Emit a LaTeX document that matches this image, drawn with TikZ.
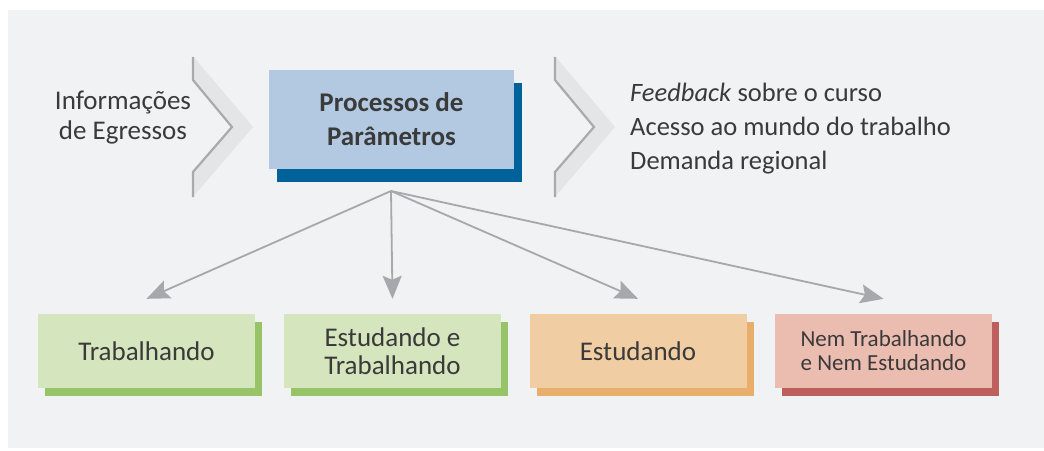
\documentclass[tikz,border=0pt]{standalone}
\usepackage{fontspec}
\setmainfont{Carlito}
\usetikzlibrary{arrows.meta,shadows}
\definecolor{bgc}{HTML}{F1F2F4}
\definecolor{chevf}{HTML}{E4E5E7}
\definecolor{chevs}{HTML}{A9AAAC}
\definecolor{bluef}{HTML}{B3C9E2}
\definecolor{blues}{HTML}{00629B}
\definecolor{greenf}{HTML}{D5E5BE}
\definecolor{greens}{HTML}{98C468}
\definecolor{orangef}{HTML}{F1CDA3}
\definecolor{oranges}{HTML}{E8AE6C}
\definecolor{pinkf}{HTML}{EBBCB0}
\definecolor{pinks}{HTML}{BD5F5D}
\definecolor{arrowc}{HTML}{A7A8AB}
\definecolor{txt}{HTML}{3A3A3A}
\tikzset{
  txtnode/.style={text=txt, align=center, inner sep=0pt},
  mainbox/.style={fill=bluef, minimum width=245pt, minimum height=99pt, inner sep=0pt,
    align=center, text=txt,
    general shadow={shadow xshift=8pt, shadow yshift=-12.5pt, fill=blues}},
  catbox/.style 2 args={fill=#1, minimum width=217pt, minimum height=74pt, inner sep=0pt,
    align=center, text=txt,
    general shadow={shadow xshift=7pt, shadow yshift=-8pt, fill=#2}},
  conn/.style={draw=arrowc, line width=1.8pt,
    -{Stealth[length=23pt, width=19pt, inset=4pt, fill=arrowc]}},
  chevfill/.style={fill=chevf},
  chevedge/.style={draw=chevs, line width=2.2pt, line join=miter},
}
\begin{document}
\begin{tikzpicture}[x=1pt, y=-1pt]
\useasboundingbox (0,0) rectangle (1044,450);
\fill[bgc] (8,10) rectangle (1044,448);
% chevrons
\foreach \dx in {0,362}{
  \fill[chevfill] (192+\dx,55) -- (253+\dx,127) -- (192+\dx,198) -- (192+\dx,172)
     -- (232+\dx,127) -- (192+\dx,80) -- cycle;
  \draw[chevedge] (193+\dx,57) -- (193+\dx,80) -- (232+\dx,127) -- (193+\dx,172) -- (193+\dx,197);
}
% texts
\node[txtnode, font=\fontsize{27}{30}\selectfont] (inf) at (123,118) {Informações\\de Egressos};
\node[txtnode, anchor=west, align=left, font=\fontsize{26.5}{34}\selectfont] (out) at (630,129)
  {\textit{Feedback} sobre o curso\\Acesso ao mundo do trabalho\\Demanda regional};
% main box
\node[mainbox, font=\bfseries\fontsize{27}{34}\selectfont] (main) at (391.5,119.5) {Processos de\\Parâmetros};
\coordinate (apex) at (391,191);
% category boxes
\node[catbox={greenf}{greens}, font=\fontsize{27}{28}\selectfont] (b1) at (146.5,351) {Trabalhando};
\node[catbox={greenf}{greens}, font=\fontsize{27}{28}\selectfont] (b2) at (392.5,351) {Estudando e\\Trabalhando};
\node[catbox={orangef}{oranges}, font=\fontsize{27}{28}\selectfont] (b3) at (638,351) {Estudando};
\node[catbox={pinkf}{pinks}, font=\fontsize{23}{24}\selectfont] (b4) at (883.5,351) {Nem Trabalhando\\e Nem Estudando};
% connectors
\draw[conn] (apex) -- ([yshift=15pt]b1.north);
\draw[conn] (apex) -- ([yshift=15pt]b2.north);
\draw[conn] (apex) -- ([yshift=15pt]b3.north);
\draw[conn] (apex) -- ([yshift=15pt]b4.north);
\end{tikzpicture}
\end{document}
